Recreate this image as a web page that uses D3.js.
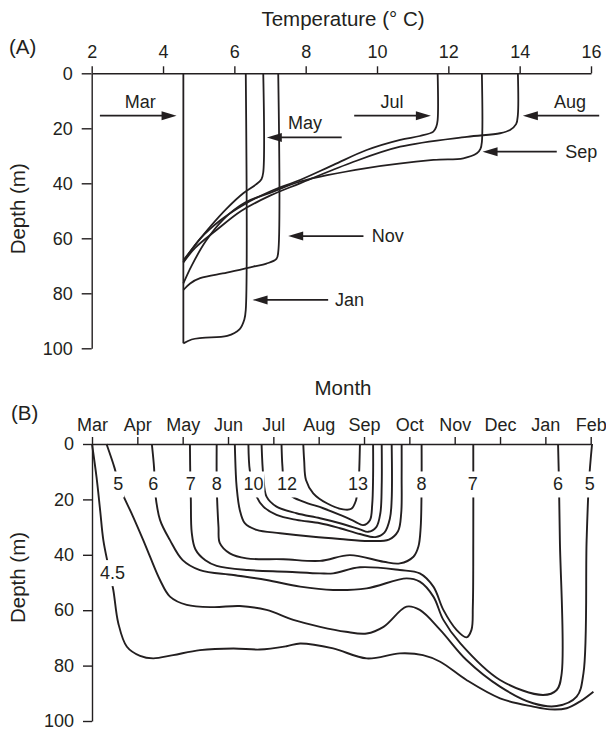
<!DOCTYPE html>
<html>
<head>
<meta charset="utf-8">
<script src="https://cdn.jsdelivr.net/npm/d3@7"></script>
<style>
body { margin: 0; background: #fff; }
svg { display: block; font-family: "Liberation Sans", Arial, Helvetica, sans-serif; }
</style>
</head>
<body>
<svg id="chart" width="606" height="732"></svg>
<script>
// ---- panel A : temperature profiles, [temp, depth]
var tempTicks = [2, 4, 6, 8, 10, 12, 14, 16];
var depthTicks = [0, 20, 40, 60, 80, 100];

var profMar = [[4.57,0],[4.57,98.2]];
var profMay = [[6.81,0],[6.81,36],[6.76,38.5],[6.6,40.5],[6.25,43.6],[5.79,49.1],[5.32,55.8],[4.94,61.8],[4.57,68]];
var profJul = [[11.70,0],[11.70,17],[11.66,19.5],[11.58,21.2],[11.2,22.8],[10.65,24.2],[9.71,27.9],[8.78,33.3],[7.84,38.8],[7.0,43],[6.3,47.5],[5.6,53.5],[5.05,60],[4.57,68.5]];
var profAug = [[13.95,0],[13.95,15],[13.9,18.5],[13.73,20.6],[13.45,21.8],[12.52,23.1],[10.65,26.7],[9.24,32.7],[7.84,40],[7.0,44.5],[6.2,50],[5.5,57],[4.9,63.5],[4.57,68.8]];
var profSep = [[12.94,0],[12.94,25],[12.9,27.5],[12.8,29.1],[12.42,30.9],[11.58,31.5],[9.71,34.5],[7.84,39.4],[7.0,43.5],[6.3,47],[5.7,53],[5.2,61],[4.8,70],[4.57,76.4]];
var profNov = [[7.23,0],[7.23,65],[7.18,67.5],[6.9,69.2],[6.53,70.3],[5.79,72.5],[5.04,74.5],[4.76,76.4],[4.57,78.8]];
var profJan = [[6.32,0],[6.32,86],[6.28,89.5],[6.15,93],[5.8,95.5],[5.1,96.2],[4.8,96.8],[4.57,98.2]];

var arrowNames = ["Mar", "May", "Jul", "Aug", "Sep", "Nov", "Jan"];
var arrowDepth = [15.4, 23.3, 15.4, 15.4, 28.5, 59.2, 82.4];
var arrowFrom = [2.23, 9.01, 9.36, 16.23, 15.04, 9.62, 8.63];
var arrowTo = [4.38, 6.91, 11.51, 14.09, 12.96, 7.51, 6.51];
var arrowTextT = [3.36, 7.98, 10.42, 15.41, 15.28, 9.85, 8.82];
var arrowTextDepth = [12.5, 20.3, 12.5, 12.5, 28.5, 59.2, 82.4];

// ---- panel B : isotherms, [month index from Mar, depth]
var months = ["Mar", "Apr", "May", "Jun", "Jul", "Aug", "Sep", "Oct", "Nov", "Dec", "Jan", "Feb"];
var iso45 = [[0,0],[0.1,12],[0.18,24],[0.25,34.7],[0.36,44],[0.47,52.7],[0.58,64.7],[0.77,73.2],[1.06,76.5],[1.35,77.4],[1.79,76.2],[2.38,74.4],[3.12,73.8],[3.7,74.2],[4.29,73],[4.59,72],[5.32,73.8],[6.06,77.4],[6.79,75.6],[7.3,76.2],[7.68,78.6],[8.26,85.2],[9,91.8],[9.73,94.8],[10.1,95.8],[10.47,95.4],[10.76,93],[11.06,89.4]];
var iso5 = [[0.32,0],[0.5,8.8],[0.58,14],[0.65,17.2],[0.9,26],[1.13,34.7],[1.28,40.7],[1.5,49.1],[1.72,55.1],[2.09,58.1],[2.68,58.9],[3.26,58.5],[3.85,59.9],[4.44,63.5],[5.03,66],[5.6,67.8],[6.06,68.4],[6.43,66],[6.94,58.7],[7.23,59.9],[7.68,67.1],[8.26,78],[9,87.6],[9.73,93.6],[10.25,94.6],[10.69,91.2],[10.84,82.8],[10.91,34.7],[10.96,14],[11.03,0]];
var iso6 = [[1.32,0],[1.37,8.8],[1.38,14],[1.39,17.2],[1.5,27.4],[1.72,34.7],[2.0,41.9],[2.38,45.5],[3.12,47.3],[3.85,49.1],[4.59,51.5],[5.32,52.7],[6.06,52.1],[6.94,48.5],[7.23,49.7],[7.53,55.1],[7.75,63.5],[8.12,71.9],[9,85.2],[9.95,90.6],[10.25,88.8],[10.36,82.8],[10.32,34.7],[10.3,14],[10.28,0]];
var iso7 = [[2.16,0],[2.17,14],[2.18,20],[2.2,32],[2.28,38],[2.5,42],[2.75,44],[3.44,45.5],[4.29,46.1],[5.03,46.7],[5.32,46.7],[5.91,44.5],[6.79,45.5],[7.23,46.7],[7.53,51.5],[7.75,59.9],[8.04,67.1],[8.26,69.8],[8.37,67.1],[8.4,58.7],[8.41,34.7],[8.41,0]];
var iso8 = [[2.75,0],[2.75,14],[2.76,20],[2.79,29.9],[2.82,35.8],[3.04,39.5],[3.41,41.3],[4.22,41.6],[5.03,42.2],[5.69,40.1],[6.43,42.5],[6.79,43.1],[7.09,40.7],[7.2,37],[7.25,30],[7.27,14],[7.27,0]];
var iso9 = [[3.15,0],[3.17,10],[3.19,15.4],[3.26,23.8],[3.37,28.6],[3.63,31],[4.15,32.2],[4.88,33.5],[5.47,34.3],[6.1,35],[6.55,34.5],[6.75,31.5],[6.82,25],[6.83,12],[6.83,0]];
var iso10 = [[3.45,0],[3.48,9.4],[3.55,14],[3.63,19],[3.78,22.6],[4.07,25.6],[4.51,27.4],[5.03,28.6],[5.47,30.4],[5.91,32.5],[6.25,33.6],[6.45,32],[6.57,27],[6.61,20],[6.61,0]];
var iso11 = [[3.74,0],[3.78,11.8],[3.85,19],[4.07,22.6],[4.51,25],[5.03,26.8],[5.47,28.6],[5.91,30.8],[6.09,31.7],[6.27,30],[6.36,25],[6.39,15],[6.39,0]];
var iso12 = [[4.18,0],[4.2,8],[4.24,14],[4.37,18.4],[4.66,20.8],[5.1,23.2],[5.47,25.6],[5.8,28],[5.98,29.3],[6.13,27.5],[6.18,22],[6.2,12],[6.2,0]];
var iso13 = [[4.66,0],[4.68,6],[4.72,13],[4.88,17.8],[5.18,21.4],[5.54,23.6],[5.72,23.4],[5.82,20.5],[5.86,16],[5.88,14],[5.91,0]];

var isoLabels = ["4.5", "5", "6", "7", "8", "10", "12", "13", "8", "7", "6", "5"];
var isoLabelMonth = [0.45, 0.58, 1.35, 2.18, 2.75, 3.56, 4.3, 5.87, 7.27, 8.4, 10.28, 10.98];
var isoLabelDepth = [46.5, 14.5, 14.5, 14.5, 14.5, 14.5, 14.5, 14.5, 14.5, 14.5, 14.5, 14.5];

var ink = "#231f20";
var svg = d3.select("#chart");

function styleAxis(g) {
	g.attr("font-size", 18).attr("font-family", null);
	g.selectAll("path, line").attr("stroke", ink).attr("stroke-width", 1.4);
	g.selectAll("text").attr("fill", ink);
}

// ================= panel A
var xA = d3.scaleLinear().domain([2, 16]).range([91.7, 591]);
var yA = d3.scaleLinear().domain([0, 100]).range([73.3, 348.3]);

svg.append("g")
	.attr("transform", "translate(0," + yA(0) + ")")
	.call(d3.axisTop(xA).tickValues(tempTicks).tickSize(7).tickSizeOuter(0).tickPadding(8))
	.call(styleAxis);

svg.append("g")
	.attr("transform", "translate(" + xA(2) + ",0)")
	.call(d3.axisLeft(yA).tickValues(depthTicks).tickSize(10).tickSizeOuter(0).tickPadding(9))
	.call(styleAxis);

var lineA = d3.line()
	.x(function(d) { return xA(d[0]); })
	.y(function(d) { return yA(d[1]); })
	.curve(d3.curveCatmullRom.alpha(0.5));

svg.append("g").selectAll("path")
	.data([profMar, profMay, profJul, profAug, profSep, profNov, profJan])
	.enter().append("path")
	.attr("d", lineA)
	.attr("fill", "none")
	.attr("stroke", ink)
	.attr("stroke-width", 1.8);

var arrows = svg.append("g");
arrowNames.forEach(function(name, i) {
	var x0 = xA(arrowFrom[i]), x1 = xA(arrowTo[i]), y = yA(arrowDepth[i]);
	var dir = x1 > x0 ? 1 : -1, head = 15;
	arrows.append("line")
		.attr("x1", x0).attr("x2", x1 - dir * head * 0.8)
		.attr("y1", y).attr("y2", y)
		.attr("stroke", ink).attr("stroke-width", 1.8);
	arrows.append("path")
		.attr("d", "M" + x1 + "," + y + "L" + (x1 - dir * head) + "," + (y - 4.5) + "L" + (x1 - dir * head) + "," + (y + 4.5) + "Z")
		.attr("fill", ink);
	var inline = i >= 4;
	arrows.append("text")
		.attr("x", xA(arrowTextT[i]))
		.attr("y", yA(arrowTextDepth[i]))
		.attr("dy", inline ? "0.35em" : null)
		.attr("text-anchor", inline ? "start" : "middle")
		.attr("font-size", 18)
		.attr("fill", ink)
		.text(name);
});

svg.append("text")
	.attr("x", 343).attr("y", 26)
	.attr("text-anchor", "middle")
	.attr("font-size", 20.5).attr("fill", ink)
	.text("Temperature (° C)");

svg.append("text")
	.attr("x", 9).attr("y", 54)
	.attr("font-size", 20.5).attr("fill", ink)
	.text("(A)");

svg.append("text")
	.attr("transform", "translate(25," + (yA(50) - 2) + ") rotate(-90)")
	.attr("text-anchor", "middle")
	.attr("font-size", 20.5).attr("fill", ink)
	.text("Depth (m)");

// ================= panel B
var xB = d3.scaleLinear().domain([0, 11]).range([92, 590.7]);
var yB = d3.scaleLinear().domain([0, 100]).range([444, 721]);

svg.append("g")
	.attr("transform", "translate(0," + yB(0) + ")")
	.call(d3.axisTop(xB).tickValues(d3.range(months.length)).tickFormat(function(d) { return months[d]; })
		.tickSize(7).tickSizeOuter(0).tickPadding(6))
	.call(styleAxis);

svg.append("g")
	.attr("transform", "translate(" + xB(0) + ",0)")
	.call(d3.axisLeft(yB).tickValues(depthTicks).tickSize(9).tickSizeOuter(0).tickPadding(9))
	.call(styleAxis);

var lineB = d3.line()
	.x(function(d) { return xB(d[0]); })
	.y(function(d) { return yB(d[1]); })
	.curve(d3.curveCatmullRom.alpha(0.5));

svg.append("g").selectAll("path")
	.data([iso45, iso5, iso6, iso7, iso8, iso9, iso10, iso11, iso12, iso13])
	.enter().append("path")
	.attr("d", lineB)
	.attr("fill", "none")
	.attr("stroke", ink)
	.attr("stroke-width", 1.9);

var labB = svg.append("g");
isoLabels.forEach(function(t, i) {
	var tx = labB.append("text")
		.attr("x", xB(isoLabelMonth[i]))
		.attr("y", yB(isoLabelDepth[i]))
		.attr("dy", "0.35em")
		.attr("text-anchor", "middle")
		.attr("font-size", 18)
		.attr("fill", ink)
		.text(t);
	var bb = tx.node().getBBox();
	labB.insert("rect", "text")
		.attr("x", bb.x - 1).attr("y", bb.y - 3)
		.attr("width", bb.width + 2).attr("height", bb.height + 6)
		.attr("fill", "#fff");
});

svg.append("text")
	.attr("x", 343).attr("y", 395)
	.attr("text-anchor", "middle")
	.attr("font-size", 20.5).attr("fill", ink)
	.text("Month");

svg.append("text")
	.attr("x", 11).attr("y", 420)
	.attr("font-size", 20.5).attr("fill", ink)
	.text("(B)");

svg.append("text")
	.attr("transform", "translate(25," + (yB(50) - 5) + ") rotate(-90)")
	.attr("text-anchor", "middle")
	.attr("font-size", 20.5).attr("fill", ink)
	.text("Depth (m)");
</script>
</body>
</html>
